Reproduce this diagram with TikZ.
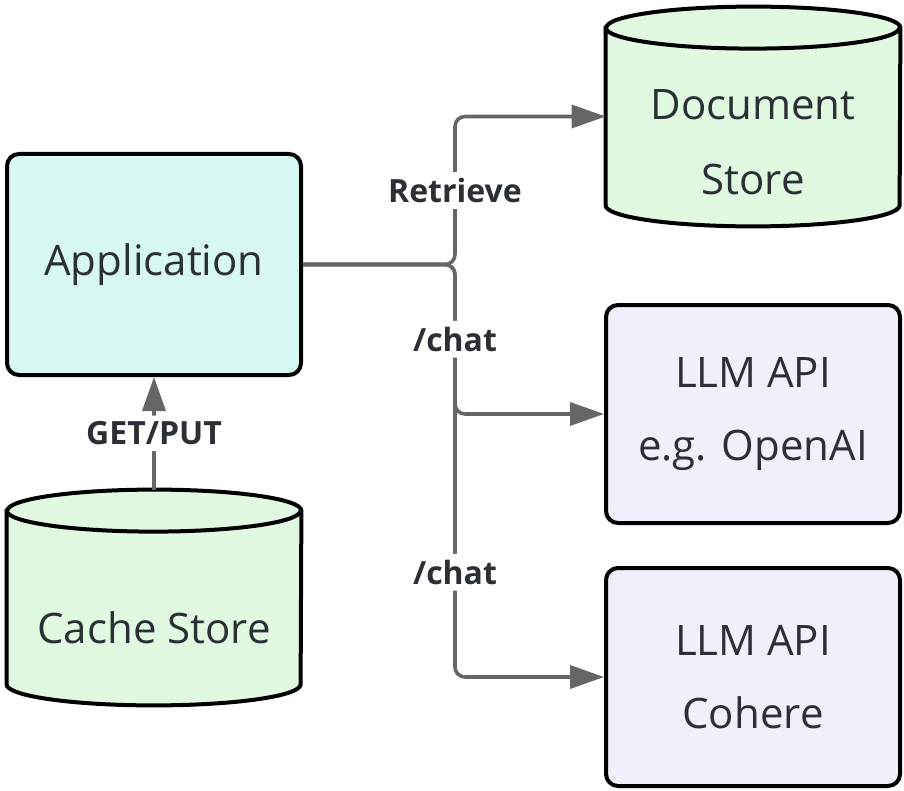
\documentclass[tikz,border=0pt]{standalone}
\usepackage{fontspec}
\setmainfont{Open Sans}
\usepackage{tikz}
\usetikzlibrary{arrows.meta}

\definecolor{appcyan}{HTML}{D7F8F2}
\definecolor{storegreen}{HTML}{E1F9E1}
\definecolor{apilav}{HTML}{EFF0FC}
\definecolor{inkgray}{HTML}{2B3036}
\definecolor{linegray}{HTML}{666666}

% cylinder drawn round a (plain) node
\newcommand{\drawdrum}[1]{%
	\draw[drumline] ([yshift=-10.5pt]#1.north west) -- ([yshift=10.5pt]#1.south west)
		arc[start angle=180, end angle=360, x radius=73.5pt, y radius=10.5pt]
		-- ([yshift=-10.5pt]#1.north east)
		arc[start angle=0, end angle=180, x radius=73.5pt, y radius=10.5pt] -- cycle;
	\draw[drumline, fill=none] ([yshift=-10.5pt]#1.north west)
		arc[start angle=180, end angle=360, x radius=73.5pt, y radius=10.5pt];
}

\begin{document}
\begin{tikzpicture}[x=0.5pt,y=-0.5pt]
	
	\tikzset{
		box/.style={draw=black, line width=2pt, rounded corners=6pt, minimum width=147pt,
			minimum height=109pt, inner sep=0pt, align=center, text=inkgray,
			font=\fontsize{21}{36.5}\selectfont},
		drum/.style={minimum width=147pt, inner sep=0pt},
		drumline/.style={draw=black, line width=2pt, fill=storegreen},
		drumtext/.style={align=center, text=inkgray, font=\fontsize{21}{37.5}\selectfont},
		conn/.style={draw=linegray, line width=1.8pt, rounded corners=5pt,
			-{Triangle[length=17pt,width=11.5pt]}},
		edgelabel/.style={fill=white, inner sep=3pt, text=inkgray,
			font=\fontsize{16}{18}\selectfont\bfseries}
	}
	
	\useasboundingbox (0,0) rectangle (904,791);
	
	\node[box, fill=appcyan, minimum height=110.5pt] (app) at (154,264.5) {Application};
	\node[box, fill=apilav] (llma) at (753,414) {LLM API\\e.g. OpenAI};
	\node[box, fill=apilav] (llmb) at (753,677) {LLM API\\Cohere};
	
	\node[drum, minimum height=109.5pt] (doc) at (753,116.5) {};
	\node[drum, minimum height=107.5pt] (cache) at (154,597.5) {};
	\drawdrum{doc}
	\drawdrum{cache}
	\node[drumtext, yshift=-13pt] (doctext) at (doc.center) {Document\\Store};
	\node[drumtext, yshift=-15pt] (cachetext) at (cache.center) {Cache Store};
	
	\coordinate (split) at (455,264.5);
	
	\draw[conn] (app.east) -- (split) |- (llmb.west) node[pos=0.373, edgelabel] {/chat};
	\draw[conn] (app.east) -- (split) |- (llma.west) node[pos=0.25, edgelabel] {/chat};
	\draw[conn] (app.east) -- (split) |- (doc.west) node[pos=0.25, edgelabel] {Retrieve};
	
	\draw[conn] (cache.north) -- (app.south) node[midway, edgelabel] {GET/PUT};
	
\end{tikzpicture}
\end{document}
